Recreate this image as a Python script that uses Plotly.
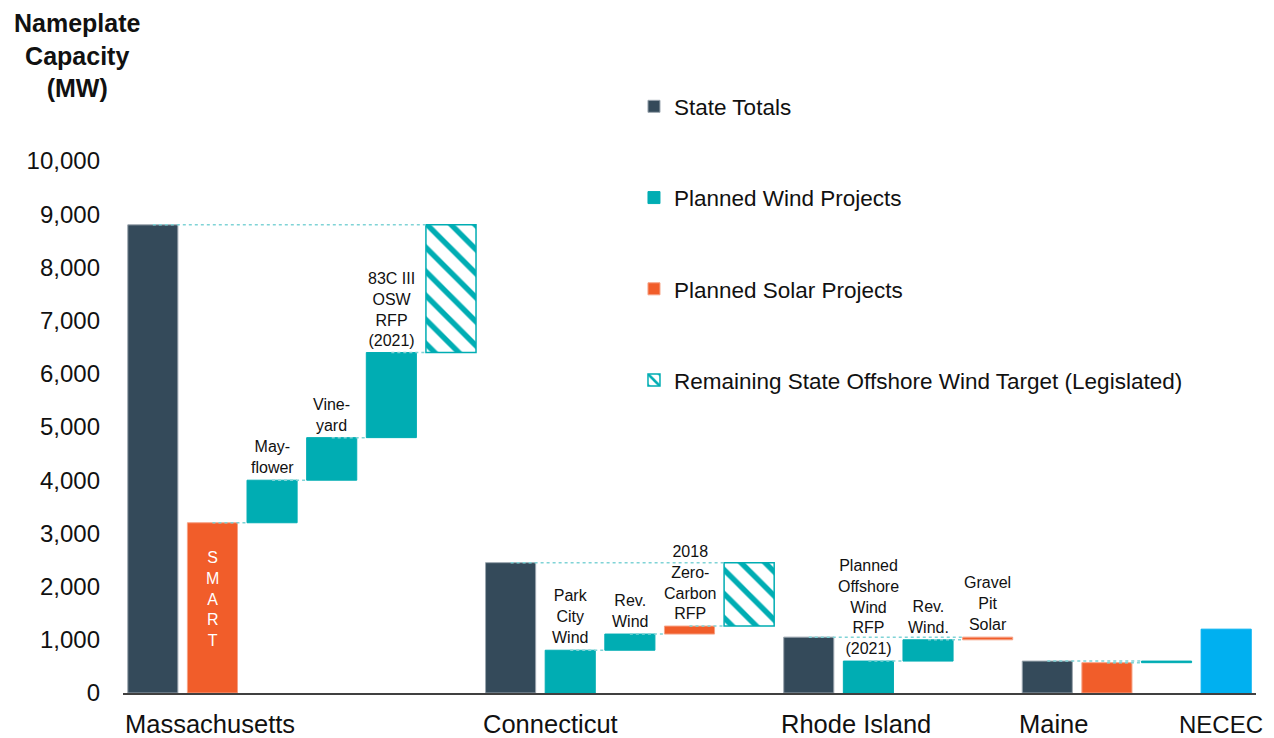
import plotly.graph_objects as go

# ---------------- data ----------------
bar_names = ["MA Total", "SMART", "Mayflower", "Vineyard", "83C III", "MA Remaining",
             "CT Total", "Park City Wind", "Rev. Wind (CT)", "2018 Zero-Carbon RFP", "CT Remaining",
             "RI Total", "Planned OSW RFP (2021)", "Rev. Wind (RI)", "Gravel Pit Solar",
             "ME Total", "ME Solar", "ME Wind", "NECEC"]
bar_values = [8800, 3200, 800, 800, 1600, 2400,
              2450, 804, 304, 150, 1192,
              1050, 600, 400, 50,
              600, 570, 30,
              1200]
bar_kinds = ["total", "solar", "wind", "wind", "wind", "target",
             "total", "wind", "wind", "solar", "target",
             "total", "wind", "wind", "solar",
             "total", "solar", "wind",
             "import"]
bar_labels = ["", "", "May-<br>flower", "Vine-<br>yard", "83C III<br>OSW<br>RFP<br>(2021)", "",
              "", "Park<br>City<br>Wind", "Rev.<br>Wind", "2018<br>Zero-<br>Carbon<br>RFP", "",
              "", "Planned<br>Offshore<br>Wind<br>RFP<br>(2021)", "Rev.<br>Wind.", "Gravel<br>Pit<br>Solar",
              "", "", "", ""]
group_names = ["Massachusetts", "Connecticut", "Rhode Island", "Maine", "NECEC"]
group_first_bar = [0, 6, 11, 15, 18]

legend_names = {"total": "State Totals", "wind": "Planned Wind Projects",
                "solar": "Planned Solar Projects",
                "target": "Remaining State Offshore Wind Target (Legislated)"}

# ---------------- styles ----------------
C_DARK = "#344A5A"
C_TEAL = "#00ADB3"
C_ORANGE = "#F15D2A"
C_NECEC = "#00B0F0"
FONT = "Liberation Sans, Arial, sans-serif"
BAR_W = 0.84

# ---------------- compute waterfall bases ----------------
bases = []
running = 0
for v, k in zip(bar_values, bar_kinds):
    if k in ("total", "import"):
        bases.append(0)
        running = 0
    else:
        bases.append(running)
        running += v
tops = [b + v for b, v in zip(bases, bar_values)]
xpos = list(range(len(bar_values)))

fig = go.Figure()

def add_kind(kind, color, line_color, pattern=None, show=True, name=None):
    idx = [i for i, k in enumerate(bar_kinds) if k == kind]
    marker = dict(color=color if pattern is None else "white",
                  line=dict(color=line_color, width=1.5 if pattern else 1))
    if pattern:
        marker["pattern"] = pattern
    fig.add_trace(go.Bar(
        x=[xpos[i] for i in idx], y=[bar_values[i] for i in idx],
        base=[bases[i] for i in idx], width=BAR_W, marker=marker,
        name=name or legend_names.get(kind, kind), showlegend=show,
        legendgroup=kind, hoverinfo="skip"))

add_kind("total", C_DARK, "#9AA5AE")
add_kind("wind", C_TEAL, C_TEAL)
add_kind("solar", C_ORANGE, "#F6A184")
add_kind("target", C_TEAL, C_TEAL,
         pattern=dict(shape="\\", fgcolor=C_TEAL, bgcolor="white", fgopacity=1,
                      size=17, solidity=0.32))
add_kind("import", C_NECEC, C_NECEC, show=False, name="NECEC")

# ---------------- connectors ----------------
n = len(bar_values)
for i in range(n):
    k = bar_kinds[i]
    if k == "import":
        continue
    if k == "total":
        j = i + 1
        while j + 1 < n and bar_kinds[j + 1] not in ("total", "import"):
            j += 1
        if j >= n or bar_kinds[j] in ("total", "import"):
            continue
        y = tops[i]
    else:
        j = i + 1
        if j >= n or bar_kinds[j] in ("total", "import"):
            continue
        y = tops[i]
    fig.add_trace(go.Scatter(x=[xpos[i], xpos[j] - BAR_W / 2], y=[y, y], mode="lines",
                             line=dict(color="#7FD3D6", width=1.5, dash="dot"),
                             showlegend=False, hoverinfo="skip"))

# ---------------- annotations ----------------
ann = []
for i, t in enumerate(bar_labels):
    if t:
        ann.append(dict(x=xpos[i], y=tops[i], text=t, showarrow=False, xref="x", yref="y",
                        yanchor="bottom", yshift=2, font=dict(family=FONT, size=16, color="#111")))
# SMART inside label
smart_i = bar_names.index("SMART")
ann.append(dict(x=xpos[smart_i], y=bar_values[smart_i] * 0.55, text="S<br>M<br>A<br>R<br>T",
                showarrow=False, font=dict(family=FONT, size=16, color="white")))
# group labels
for name, fi in zip(group_names, group_first_bar):
    if name == "NECEC":
        ann.append(dict(x=xpos[fi] - 0.08, y=0, xref="x", yref="paper", yanchor="middle", yshift=-31,
                        xanchor="center", text=name, showarrow=False,
                        font=dict(family=FONT, size=24, color="#111")))
    else:
        ann.append(dict(x=xpos[fi] - 0.5, y=0, xref="x", yref="paper", yanchor="middle", yshift=-31,
                        xanchor="left", text=name, showarrow=False,
                        font=dict(family=FONT, size=25.5, color="#111")))
# axis title
ann.append(dict(x=-0.0406, y=1.29, xref="paper", yref="paper", xanchor="center", yanchor="top",
                text="<b>Nameplate<br>Capacity<br>(MW)</b>", showarrow=False, align="center",
                font=dict(family=FONT, size=25, color="#111")))

fig.update_layout(
    width=1274, height=738,
    margin=dict(l=123, r=18, t=161, b=45),
    plot_bgcolor="white", paper_bgcolor="white",
    barmode="overlay",
    font=dict(family=FONT, color="#111"),
    annotations=ann,
    legend=dict(x=0.451, y=1.1425, xanchor="left", yanchor="top", traceorder="grouped",
                tracegroupgap=59, font=dict(family=FONT, size=22.5, color="#111"),
                bgcolor="rgba(0,0,0,0)", itemwidth=30),
    xaxis=dict(range=[-0.5, 18.5], showticklabels=False, showgrid=False, zeroline=False,
               showline=True, linecolor="#404040", linewidth=2, ticks=""),
    yaxis=dict(range=[0, 10000], dtick=1000, tickformat=",", showgrid=False, zeroline=False,
               showline=False, ticks="", ticklabelstandoff=22,
               tickfont=dict(family=FONT, size=24, color="#111")),
)

fig.write_html("out.html", config={"displayModeBar": False},
               post_script="document.body.style.margin='0';document.body.style.overflow='hidden';")
